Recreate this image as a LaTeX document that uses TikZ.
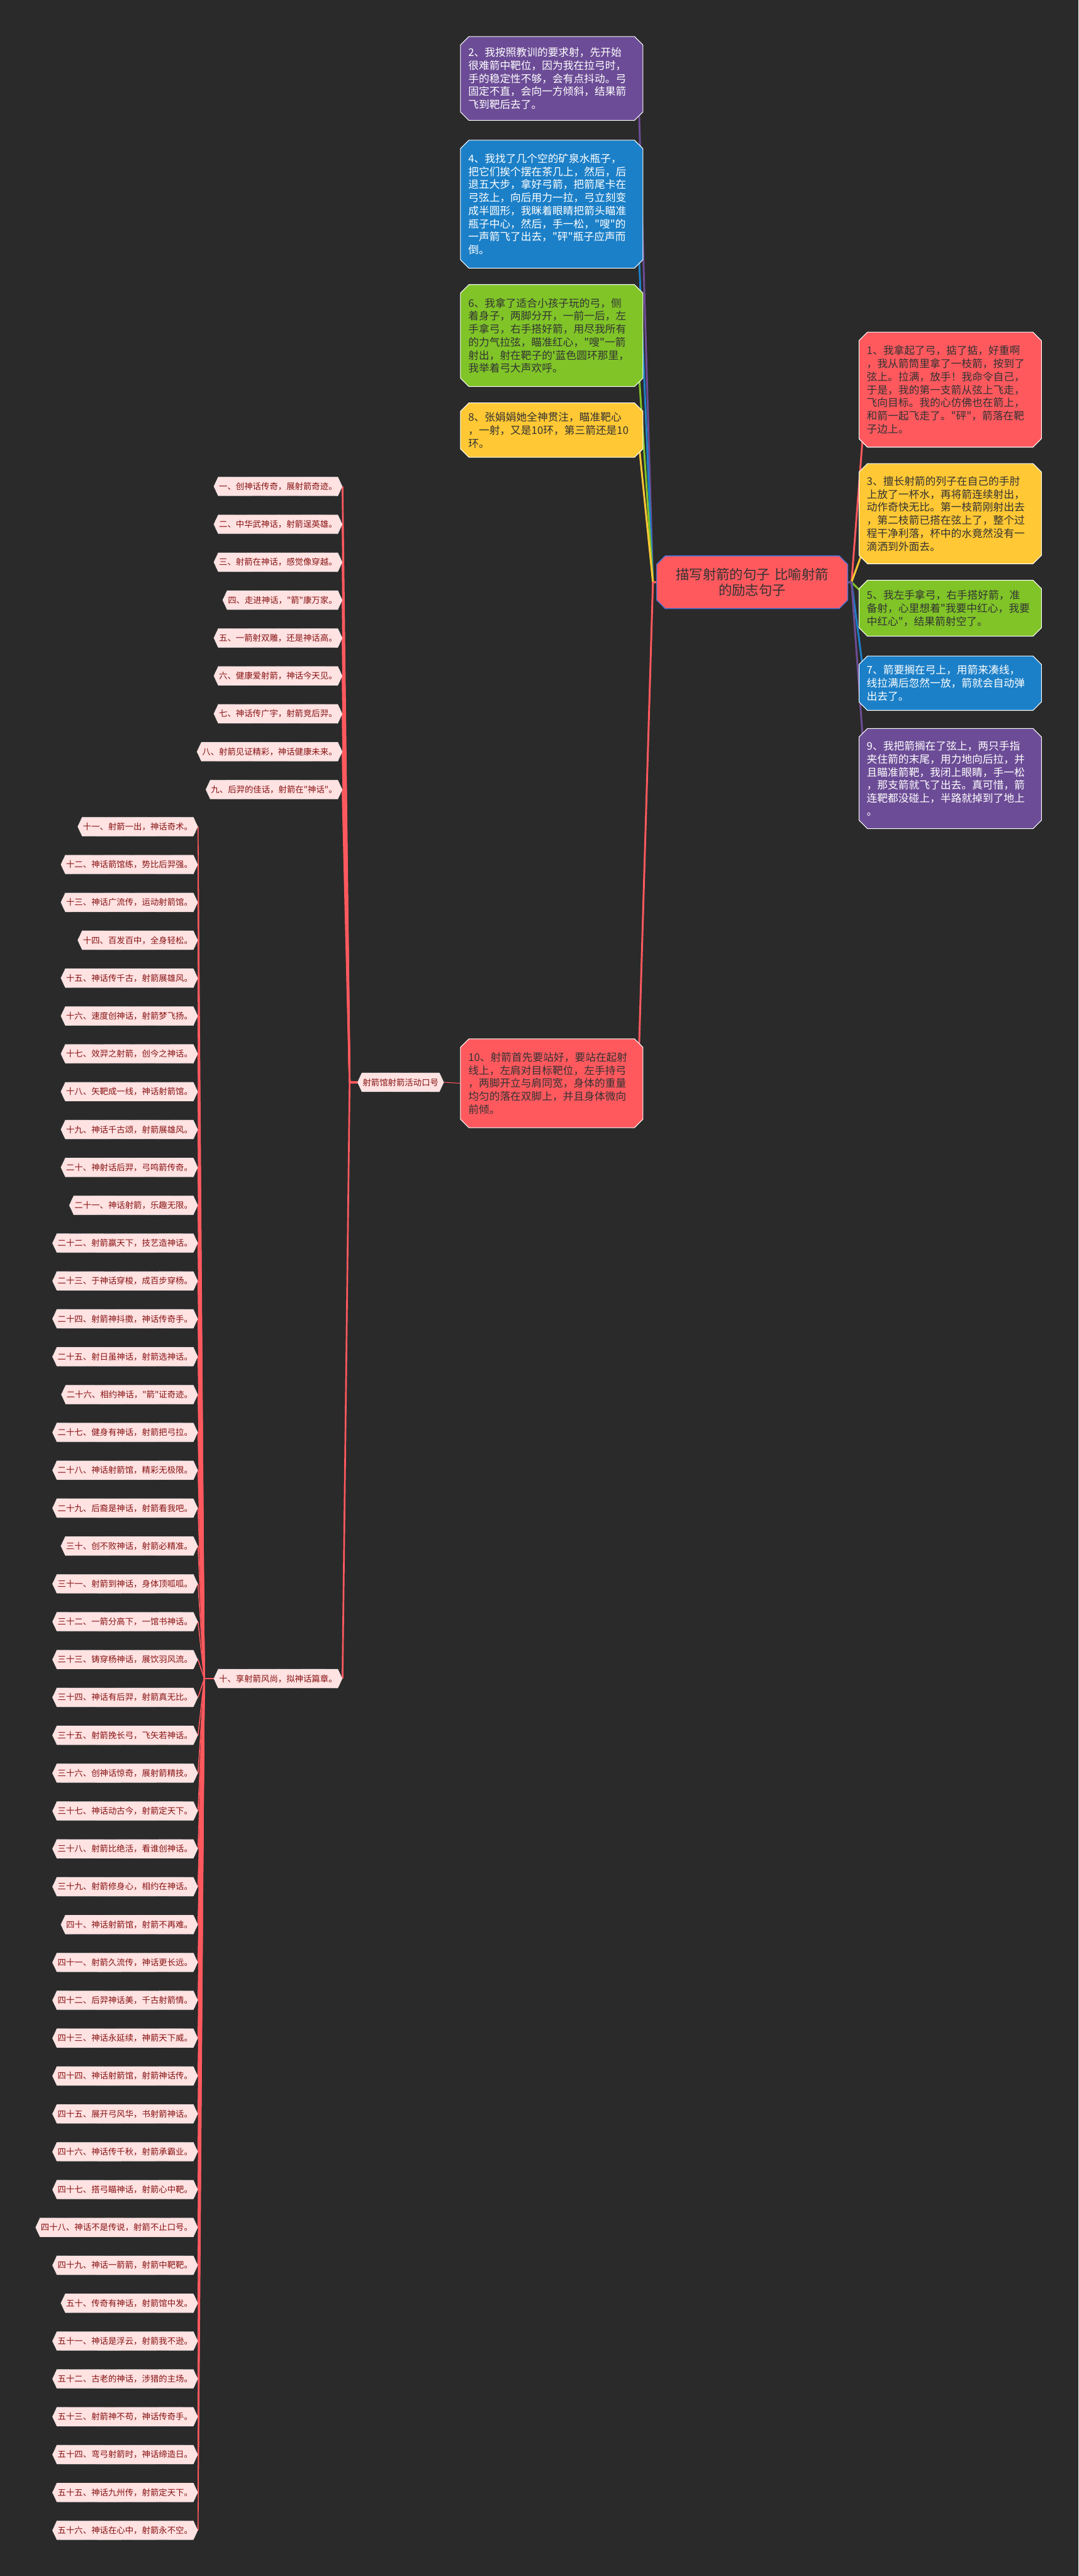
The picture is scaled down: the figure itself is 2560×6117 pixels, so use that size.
\documentclass[tikz,border=0pt]{standalone}
\usepackage{fontspec}
\setmainfont{Noto Sans CJK SC}[Ligatures=TeXOff]
\usetikzlibrary{positioning,shapes.misc,shapes.symbols,backgrounds}
\definecolor{BgDark}{RGB}{42,42,42}
\definecolor{BoxRed}{RGB}{255,89,94}
\definecolor{BoxPurple}{RGB}{108,76,150}
\definecolor{BoxBlue}{RGB}{28,128,200}
\definecolor{BoxGreen}{RGB}{128,196,40}
\definecolor{BoxYellow}{RGB}{255,200,52}
\definecolor{TopicEdge}{RGB}{72,112,212}
\definecolor{LeafFill}{RGB}{255,226,226}
\definecolor{LeafText}{RGB}{135,18,18}
\definecolor{DarkText}{RGB}{51,51,51}
\tikzset{
  branch/.style={line width=2.2pt,line cap=round,line join=round},
  twig/.style={line width=1.2pt,draw=BoxRed,line join=round},
  sentbox/.style={chamfered rectangle,chamfered rectangle xsep=5pt,chamfered rectangle ysep=5pt,
    draw=white,line width=0.8pt,anchor=north,minimum width=216.5pt,text width=198pt,
    align=left,font=\fontsize{12.5pt}{15.5pt}\selectfont},
  redbox/.style={sentbox,fill=BoxRed,text=DarkText},
  purplebox/.style={sentbox,fill=BoxPurple,text=white},
  bluebox/.style={sentbox,fill=BoxBlue,text=white},
  greenbox/.style={sentbox,fill=BoxGreen,text=DarkText},
  yellowbox/.style={sentbox,fill=BoxYellow,text=DarkText},
  topicbox/.style={chamfered rectangle,chamfered rectangle xsep=5pt,chamfered rectangle ysep=5pt,
    draw=TopicEdge,line width=1pt,fill=BoxRed,text=DarkText,anchor=north,
    minimum width=224.5pt,minimum height=62.5pt,text width=210pt,align=center,
    font=\fontsize{16pt}{19pt}\selectfont},
  leaf/.style={signal,signal to=west and east,signal pointer angle=130,fill=LeafFill,
    draw=white,densely dotted,line width=0.5pt,text=LeafText,minimum height=22.5pt,
    inner xsep=1pt,inner ysep=0pt,anchor=east,font=\fontsize{10pt}{12pt}\selectfont}
}
\begin{document}
\begin{tikzpicture}[x=0.5pt,y=-0.5pt]
  \useasboundingbox (0,0) rectangle (2560,6117);
  % centre and the ten sentences
  \node[topicbox] (topic) at (1785.5,1319) {描写射箭的句子 比喻射箭\\的励志句子};
  \coordinate[left=4pt of topic.west] (jl);
  \coordinate[right=4pt of topic.east] (jr);
  \node[purplebox,minimum height=99.5pt] (para2) at (1309.5,86) {2、我按照教训的要求射，先开始\\很难箭中靶位，因为我在拉弓时，\\手的稳定性不够，会有点抖动。弓\\固定不直，会向一方倾斜，结果箭\\飞到靶后去了。};
  \node[bluebox,minimum height=152pt] (para4) at (1309.5,332) {4、我找了几个空的矿泉水瓶子，\\把它们挨个摆在茶几上，然后，后\\退五大步，拿好弓箭，把箭尾卡在\\弓弦上，向后用力一拉，弓立刻变\\成半圆形，我眯着眼睛把箭头瞄准\\瓶子中心，然后，手一松，"嗖"的\\一声箭飞了出去，"砰"瓶子应声而\\倒。};
  \node[greenbox,minimum height=121pt] (para6) at (1309.5,675) {6、我拿了适合小孩子玩的弓，侧\\着身子，两脚分开，一前一后，左\\手拿弓，右手搭好箭，用尽我所有\\的力气拉弦，瞄准红心，"嗖"一箭\\射出，射在靶子的'蓝色圆环那里，\\我举着弓大声欢呼。};
  \node[yellowbox,minimum height=64.5pt] (para8) at (1309.5,956) {8、张娟娟她全神贯注，瞄准靶心\\，一射，又是10环，第三箭还是10\\环。};
  \node[redbox,minimum height=105.5pt] (para10) at (1309.5,2466) {10、射箭首先要站好，要站在起射\\线上，左肩对目标靶位，左手持弓\\，两脚开立与肩同宽，身体的重量\\均匀的落在双脚上，并且身体微向\\前倾。};
  \node[redbox,minimum height=136.5pt] (para1) at (2255.5,788) {1、我拿起了弓，掂了掂，好重啊\\，我从箭筒里拿了一枝箭，按到了\\弦上。拉满，放手！我命令自己，\\于是，我的第一支箭从弦上飞走，\\飞向目标。我的心仿佛也在箭上，\\和箭一起飞走了。"砰"，箭落在靶\\子边上。};
  \node[yellowbox,minimum height=119pt] (para3) at (2255.5,1100) {3、擅长射箭的列子在自己的手肘\\上放了一杯水，再将箭连续射出，\\动作奇快无比。第一枝箭刚射出去\\，第二枝箭已搭在弦上了，整个过\\程干净利落，杯中的水竟然没有一\\滴洒到外面去。};
  \node[greenbox,minimum height=66.5pt] (para5) at (2255.5,1377) {5、我左手拿弓，右手搭好箭，准\\备射，心里想着"我要中红心，我要\\中红心"，结果箭射空了。};
  \node[bluebox,minimum height=64.5pt] (para7) at (2255.5,1557) {7、箭要搁在弓上，用箭来凑线，\\线拉满后忽然一放，箭就会自动弹\\出去了。};
  \node[purplebox,minimum height=119pt] (para9) at (2255.5,1729) {9、我把箭搁在了弦上，两只手指\\夹住箭的末尾，用力地向后拉，并\\且瞄准箭靶，我闭上眼睛，手一松\\，那支箭就飞了出去。真可惜，箭\\连靶都没碰上，半路就掉到了地上\\。};
  % slogan tree
  \node[leaf] (slogan) at (1054,2570) {射箭馆射箭活动口号};
  \node[leaf] (tenth) at (813,3986) {十、享射箭风尚，拟神话篇章。};
  \coordinate[left=9pt of slogan.west] (ja);
  \coordinate[left=11pt of tenth.west] (jb);
  \foreach \txt [count=\i] in {一、创神话传奇，展射箭奇迹。, 二、中华武神话，射箭逞英雄。,
      三、射箭在神话，感觉像穿越。, 四、走进神话，"箭"康万家。, 五、一箭射双雕，还是神话高。,
      六、健康爱射箭，神话今天见。, 七、神话传广宇，射箭竞后羿。, 八、射箭见证精彩，神话健康未来。,
      九、后羿的佳话，射箭在"神话"。}
    \node[leaf] (lead\i) at (813,{1155+90*(\i-1)}) {\txt};
  \foreach \txt [count=\i] in {十一、射箭一出，神话奇术。, 十二、神话箭馆练，势比后羿强。,
      十三、神话广流传，运动射箭馆。, 十四、百发百中，全身轻松。, 十五、神话传千古，射箭展雄风。,
      十六、速度创神话，射箭梦飞扬。, 十七、效羿之射箭，创今之神话。, 十八、矢靶成一线，神话射箭馆。,
      十九、神话千古颂，射箭展雄风。, 二十、神射话后羿，弓鸣箭传奇。, 二十一、神话射箭，乐趣无限。,
      二十二、射箭赢天下，技艺造神话。, 二十三、于神话穿梭，成百步穿杨。, 二十四、射箭神抖擞，神话传奇手。,
      二十五、射日虽神话，射箭选神话。, 二十六、相约神话，"箭"证奇迹。, 二十七、健身有神话，射箭把弓拉。,
      二十八、神话射箭馆，精彩无极限。, 二十九、后裔是神话，射箭看我吧。, 三十、创不败神话，射箭必精准。,
      三十一、射箭到神话，身体顶呱呱。, 三十二、一箭分高下，一馆书神话。, 三十三、铸穿杨神话，展饮羽风流。,
      三十四、神话有后羿，射箭真无比。, 三十五、射箭挽长弓，飞矢若神话。, 三十六、创神话惊奇，展射箭精技。,
      三十七、神话动古今，射箭定天下。, 三十八、射箭比绝活，看谁创神话。, 三十九、射箭修身心，相约在神话。,
      四十、神话射箭馆，射箭不再难。, 四十一、射箭久流传，神话更长远。, 四十二、后羿神话美，千古射箭情。,
      四十三、神话永延续，神箭天下威。, 四十四、神话射箭馆，射箭神话传。, 四十五、展开弓风华，书射箭神话。,
      四十六、神话传千秋，射箭承霸业。, 四十七、搭弓瞄神话，射箭心中靶。, 四十八、神话不是传说，射箭不止口号。,
      四十九、神话一箭箭，射箭中靶靶。, 五十、传奇有神话，射箭馆中发。, 五十一、神话是浮云，射箭我不逊。,
      五十二、古老的神话，涉猎的主场。, 五十三、射箭神不苟，神话传奇手。, 五十四、弯弓射箭时，神话缔造日。,
      五十五、神话九州传，射箭定天下。, 五十六、神话在心中，射箭永不空。}
    \node[leaf] (verse\i) at (470,{1963+89.9*(\i-1)}) {\txt};
  % connectors behind the nodes
  \begin{pgfonlayer}{background}
    \fill[BgDark] (0,0) rectangle (2560,6117);
    \draw[branch,draw=BoxPurple] (topic.west) -- (jl) -- ([yshift=11pt]para2.south east);
    \draw[branch,draw=BoxBlue] (topic.west) -- (jl) -- ([yshift=11pt]para4.south east);
    \draw[branch,draw=BoxGreen] (topic.west) -- (jl) -- ([yshift=11pt]para6.south east);
    \draw[branch,draw=BoxYellow] (topic.west) -- (jl) -- ([yshift=11pt]para8.south east);
    \draw[branch,draw=BoxRed] (topic.west) -- (jl) -- ([yshift=-11pt]para10.north east);
    \draw[branch,draw=BoxRed] (topic.east) -- (jr) -- ([yshift=11pt]para1.south west);
    \draw[branch,draw=BoxYellow] (topic.east) -- (jr) -- ([yshift=11pt]para3.south west);
    \draw[branch,draw=BoxGreen] (topic.east) -- (jr) -- ([yshift=-11pt]para5.north west);
    \draw[branch,draw=BoxBlue] (topic.east) -- (jr) -- ([yshift=-11pt]para7.north west);
    \draw[branch,draw=BoxPurple] (topic.east) -- (jr) -- ([yshift=-11pt]para9.north west);
    \draw[twig,line width=0.8pt] (para10.west) -- (slogan.east);
    \foreach \i in {1,...,9}
      \draw[twig,line width=2pt] (slogan.west) -- (ja) -- (lead\i.east);
    \draw[twig,line width=2pt] (slogan.west) -- (ja) -- (tenth.east);
    \foreach \i in {1,...,46}
      \draw[twig] (tenth.west) -- (jb) -- (verse\i.east);
  \end{pgfonlayer}
\end{tikzpicture}
\end{document}
